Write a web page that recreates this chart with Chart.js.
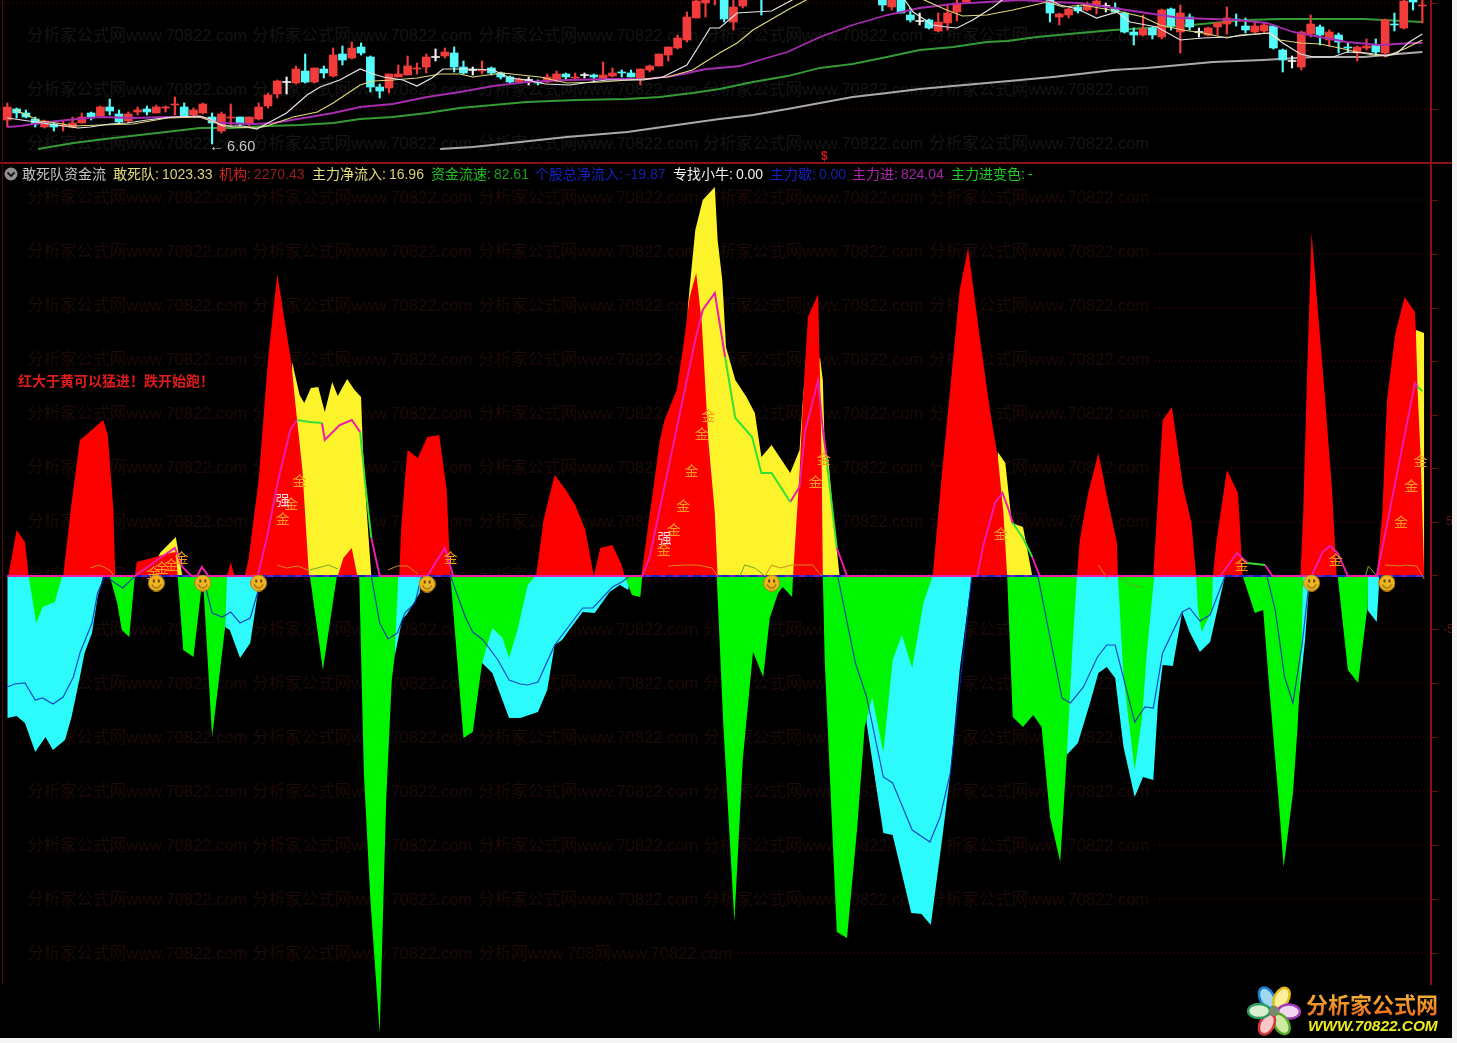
<!DOCTYPE html>
<html>
<head>
<meta charset="utf-8">
<title>敢死队资金流</title>
<script src="https://cdn.jsdelivr.net/npm/chart.js@4"></script>
<style>
    html, body { margin: 0; padding: 0; background: #f4f4f4; overflow: hidden; }
    #panel { position: absolute; left: 0; top: 0; width: 1452px; height: 1038px; background: #000; overflow: hidden;
        font-family: "Liberation Sans", "Noto Sans CJK SC", sans-serif; }
    #panel canvas { position: absolute; left: 0; }
    #price-chart { top: 0; filter: blur(0.4px); }
    #flow-chart { top: 164px; }
    .wm { position: absolute; font-size: 16.5px; line-height: 20px; white-space: nowrap; }
    .rule { position: absolute; background: #8a1212; }
    .txt { position: absolute; white-space: nowrap; }
    .legend-item { position: absolute; top: 165px; font-size: 14px; line-height: 18px; white-space: nowrap; }
    .legend-item b { font-weight: normal; margin-left: 3px; }
    #logo-cn { position: absolute; left: 1306px; top: 988px; font: bold 22px "Noto Sans CJK SC", sans-serif; line-height: 30px; white-space: nowrap;
        background: linear-gradient(#f9c63a, #e8661a); -webkit-background-clip: text; background-clip: text; color: transparent; }
    #logo-en { position: absolute; left: 1308px; top: 1016px; font: italic bold 15.4px "Liberation Sans", sans-serif; line-height: 20px; color: #ecec20; white-space: nowrap; }
</style>
</head>
<body>
<div id="panel">
    <canvas id="price-chart" width="1430" height="163"></canvas>
    <canvas id="flow-chart" width="1430" height="874"></canvas>
    <svg id="flower" style="position:absolute;left:1247px;top:984px" width="54" height="54" viewBox="-27 -27 54 54">
        <g stroke-width="2.5">
            <ellipse cx="0" cy="-15" rx="7" ry="11" transform="rotate(-28)" fill="#9fd8ef" stroke="#1c7fd8"/>
            <ellipse cx="0" cy="-15" rx="7" ry="11" transform="rotate(30)" fill="#fbf09a" stroke="#e6b81c"/>
            <ellipse cx="0" cy="-15" rx="7" ry="11" transform="rotate(92)" fill="#f0d8f0" stroke="#a43cb8"/>
            <ellipse cx="0" cy="-15" rx="7" ry="11" transform="rotate(150)" fill="#cdeba0" stroke="#58a82c"/>
            <ellipse cx="0" cy="-15" rx="7" ry="11" transform="rotate(208)" fill="#f8c8c8" stroke="#d8343c"/>
            <ellipse cx="0" cy="-15" rx="7" ry="11" transform="rotate(270)" fill="#d8f0d0" stroke="#2e9a62"/>
        </g>
        <circle r="5" fill="#7a8a70"/>
    </svg>
    <div id="logo-cn">分析家公式网</div>
    <div id="logo-en">WWW.70822.COM</div>
</div>
<script>
// Bars are numbered from the left edge, flow values sit around the zero line of the lower pane.

// ---- upper pane: candles, bar 0..152 ----
const candleOpen = [
    43, 54, 50, 44, 36, 39, 37, 36, 40, 50,
    47, 56, 49, 42, 51, 54, 50, 55, 58, 56,
    48, 50, 46, 32, 45, 46, 39, 44, 57, 69,
    81, 80, 92, 81, 94, 87, 109, 105, 116, 106,
    76, 75, 86, 88, 94, 96, 106, 107, 110, 96,
    93, 92, 95, 90, 86, 81, 83, 81, 81, 83,
    89, 85, 88, 88, 84, 87, 91, 90, 85, 93,
    97, 108, 115, 123, 145, 160, 170, 170, 141, 157,
    null, 172, null, null, null, null, null, null, null, null,
    null, null, null, null, 175, 156, 175, 148, 142, 143,
    132, 140, 151, 161, null, null, null, null, null, null,
    null, null, 172, 146, 148, 156, 153, 158, 157, 155,
    150, 131, 128, 135, 126, 154, 131, 146, 131, 128,
    136, 139, 144, 137, 131, 132, 137, 113, 102, 96,
    129, 136, 123, 128, 116, 110, 115, 118, 110, 139,
    135, 165, 157,
];
const candleClose = [
    56, 50, 46, 39, 42, 36, 38, 40, 46, 46,
    56, 52, 41, 49, 53, 51, 56, 56, 59, 47,
    53, 59, 40, 49, 46, 39, 46, 56, 68, 82,
    81, 94, 81, 95, 90, 108, 103, 115, 110, 76,
    72, 89, 89, 97, 95, 106, 106, 111, 96, 90,
    93, 93, 90, 86, 81, 84, 83, 80, 86, 89,
    86, 86, 88, 86, 88, 90, 90, 86, 94, 97,
    109, 116, 125, 146, 162, 169, 180, 144, 156, 170,
    null, 168, null, null, null, null, null, null, null, null,
    null, null, null, null, 158, 170, 150, 143, 142, 135,
    141, 150, 160, 170, null, null, null, null, null, null,
    null, null, 150, 149, 154, 152, 159, 162, 157, 151,
    131, 128, 134, 128, 153, 137, 150, 136, 131, 135,
    140, 145, 143, 133, 137, 138, 115, 103, 102, 131,
    139, 128, 131, 121, 115, 116, 117, 111, 143, 138,
    162, 161, 158,
];
const candleHigh = [
    60, 55, 53, 46, 43, 41, 42, 46, 50, 51,
    57, 64, 53, 51, 56, 57, 58, 57, 66, 60,
    55, 60, 50, 51, 59, 46, 46, 60, 70, 83,
    86, 97, 109, 95, 97, 115, 117, 121, 120, 107,
    79, 89, 98, 107, 100, 109, 114, 115, 116, 102,
    96, 102, 96, 91, 87, 85, 86, 83, 89, 92,
    90, 90, 90, 89, 101, 95, 93, 93, 94, 98,
    109, 116, 128, 151, 165, 172, 185, 172, 170, 172,
    null, 172, null, null, null, null, null, null, null, null,
    null, null, null, null, 178, 175, 178, 155, 150, 144,
    150, 159, 166, 172, null, null, null, null, null, null,
    null, null, 175, 150, 155, 158, 161, 165, 160, 160,
    151, 135, 148, 136, 154, 155, 158, 149, 135, 136,
    141, 156, 149, 145, 141, 140, 138, 114, 107, 132,
    148, 138, 133, 130, 120, 117, 124, 124, 144, 150,
    165, 170, 165,
];
const candleLow = [
    36, 45, 45, 36, 35, 32, 32, 35, 40, 43,
    47, 48, 40, 40, 48, 48, 50, 51, 48, 46,
    46, 49, 19, 30, 38, 37, 36, 43, 55, 65,
    69, 79, 80, 80, 85, 86, 98, 104, 108, 71,
    65, 70, 86, 88, 89, 90, 102, 105, 91, 89,
    88, 89, 88, 84, 80, 80, 78, 78, 80, 81,
    83, 83, 85, 81, 84, 86, 86, 86, 78, 91,
    97, 102, 114, 121, 145, 146, 158, 141, 133, 155,
    null, 148, null, null, null, null, null, null, null, null,
    null, null, null, null, 152, 153, 150, 141, 138, 134,
    131, 133, 142, 160, null, null, null, null, null, null,
    null, null, 141, 138, 145, 150, 152, 149, 151, 150,
    130, 118, 127, 124, 124, 133, 110, 133, 126, 127,
    128, 129, 137, 130, 130, 130, 114, 91, 95, 93,
    126, 118, 117, 110, 111, 102, 113, 108, 106, 132,
    134, 153, 140,
];

// moving averages, read at the bends only
const ma5Bars = [0, 0.8, 3.8, 6, 7.6, 8.9, 11, 12.9, 15, 17.8, 20.7, 21.8, 23.1, 25.3, 26.8, 28, 30, 32.2, 33.6, 35.7, 37.9, 39.3, 40.4, 42.5, 44, 45.6, 46.8, 49.7, 52.2, 54, 55.8, 57.8, 60.4, 64.4, 68.3, 70.4, 73, 75.5, 76.5, 78.4, 80.1, 82.1, 84.3, 85.1, 95.7, 96.4, 97.3, 99.4, 100.9, 102, 103.7, 105.9, 107, 111.7, 113.1, 114.5, 115.2, 117, 119.2, 120.6, 123.5, 126, 128.4, 131.3, 133.2, 135.6, 137, 138.9, 140.3, 142.4, 143.9, 146.1, 148.2, 149.3, 150.6, 152];
const ma5Vals = [45, 44, 40, 37, 35, 36, 39, 40, 43, 46, 47, 44, 37, 37, 34, 40, 50, 68, 76, 83, 94, 89, 86, 83, 77, 85, 94, 94, 93, 85, 83, 79, 78, 83, 83, 86, 98, 135, 135, 150, 151, 152, 163, 170, 170, 163, 151, 138, 136, 135, 143, 156, 164, 164, 158, 155, 153, 145, 151, 141, 136, 123, 125, 126, 128, 130, 120, 109, 106, 106, 111, 110, 107, 110, 121, 129];
const ma10Bars = [0.8, 2.1, 3.5, 5.3, 7.1, 10, 13.5, 17.2, 20.7, 22.8, 24.2, 26.8, 27.9, 30.7, 33.3, 35, 37.9, 39.3, 41.4, 44, 46.5, 48.6, 50, 53.2, 57.2, 60.1, 63.7, 68.3, 70.9, 73.6, 76.5, 78.4, 80.1, 83.8, 86.2, 98, 100.9, 102.6, 105.2, 108, 111.7, 113.4, 115.5, 119.7, 122, 123.8, 126.3, 128.4, 131, 132.4, 135.6, 136.7, 138.9, 141, 143.1, 145, 146.7, 148.2, 150.3, 152];
const ma10Vals = [53, 48, 42, 40, 37, 38, 39, 45, 46, 39, 36, 35, 37, 46, 51, 60, 78, 82, 83, 85, 89, 89, 86, 90, 86, 80, 81, 84, 86, 93, 110, 120, 133, 153, 165, 165, 153, 147, 148, 153, 161, 156, 158, 151, 146, 138, 133, 130, 125, 128, 130, 123, 120, 119, 115, 111, 108, 107, 115, 123];
const ma20Bars = [0, 1.4, 3.5, 6.4, 10, 13.5, 17.2, 20.7, 22.8, 26.4, 28.6, 32.5, 35, 37.9, 41.4, 45.1, 48.6, 52.2, 55.8, 60.1, 65.1, 68.7, 71.5, 75.1, 76.5, 78.7, 81.2, 83.8, 87.3, 90.8, 94.5, 98, 101.6, 105.2, 108.8, 112.3, 115.2, 118.8, 122.4, 126, 129.5, 132.1, 135.3, 138.1, 141, 143.9, 147.4, 151, 152];
const ma20Vals = [36, 37, 40, 43, 46, 45, 46, 46, 40, 39, 40, 46, 50, 56, 59, 66, 71, 77, 81, 83, 84, 84, 87, 94, 95, 97, 104, 111, 126, 138, 148, 155, 159, 161, 163, 161, 160, 155, 150, 145, 144, 143, 140, 131, 126, 121, 118, 120, 120];
const ma60Bars = [3.3, 7.1, 11.4, 16.1, 20.7, 24.2, 27.9, 31.4, 35, 37.9, 41.4, 45.1, 48.6, 52.2, 55.8, 61.2, 66.6, 70.1, 73.6, 76.5, 80.1, 83.8, 87.3, 90.8, 94.5, 98, 101.6, 105.2, 107.4, 110.6, 115.2, 118.8, 122.4, 126, 129.5, 133.2, 136.7, 140.3, 145.7, 152];
const ma60Vals = [14, 20, 25, 30, 35, 35, 37, 38, 40, 44, 46, 50, 55, 58, 61, 63, 64, 66, 70, 74, 81, 87, 95, 99, 106, 113, 116, 121, 122, 126, 130, 133, 135, 137, 140, 143, 144, 144, 144, 141];
const ma120Bars = [46.5, 50, 55.1, 60.1, 66.6, 71.9, 76.5, 80.1, 84.4, 87.3, 90.8, 94.5, 98, 101.6, 105.2, 108.8, 112.3, 115.2, 118.8, 122.4, 126, 129.5, 134.9, 140.3, 145.7, 149.3, 152];
const ma120Vals = [14, 16, 21, 26, 31, 38, 44, 48, 55, 60, 66, 70, 74, 77, 80, 83, 86, 89, 93, 95, 98, 101, 103, 106, 106, 109, 111];
const priceGridLevels = [160, 54];

// ---- lower pane: filled flow areas ----
const redBars = [0.1, 1, 1.9, 2.3, 6, 6.9, 7.8, 8.7, 10.3, 10.8, 11.4, 11.6, 13.7, 13.9, 15.9, 17.5, 18.1, 18.3, 23.6, 24, 24.4, 25.5, 25.9, 27, 28, 29, 30.5, 30.9, 31.7, 32.4, 35.5, 36.1, 37, 37.6, 42.1, 42.3, 42.7, 43, 44.1, 45.1, 46.4, 46.9, 47.2, 47.6, 56.8, 57.6, 58.8, 60, 61, 62.1, 63, 63.7, 65, 66, 66.3, 68.1, 70.1, 70.6, 71.9, 72.6, 73.3, 74, 74.6, 75.3, 76, 76.3, 84.4, 85.1, 85.5, 86, 87.1, 87.3, 87.5, 87.6, 99.4, 100.4, 101.3, 102.3, 103.2, 104.5, 105.6, 106.4, 107, 107.4, 114.9, 115.2, 116.1, 117.2, 118.2, 119.2, 119.3, 123.1, 123.5, 124.1, 125.1, 125.6, 126.3, 127.2, 127.7, 129.5, 129.9, 131, 132.2, 132.7, 138.9, 139.2, 139.6, 140.1, 140.8, 141.5, 142.3, 142.8, 147.1, 147.7, 148.2, 149.1, 150.1, 151.2, 151.3, 151.5, 151.8, 152, 152.2];
const redVals = [0, 46, 34, 0, 0, 73, 136, 143, 156, 141, 66, 0, 0, 14, 19, 23, 24, 0, 0, 14, 0, 0, 16, 96, 216, 302, 214, 176, 106, 0, 0, 18, 28, 0, 0, 46, 96, 126, 118, 139, 141, 106, 86, 0, 0, 56, 101, 86, 71, 46, 0, 28, 31, 11, 0, 0, 136, 156, 186, 229, 279, 303, 253, 136, 63, 0, 0, 103, 183, 259, 282, 196, 96, 0, 0, 103, 189, 286, 328, 236, 163, 119, 63, 0, 0, 36, 83, 123, 76, 33, 0, 0, 63, 156, 169, 136, 89, 53, 0, 0, 36, 106, 83, 0, 0, 63, 196, 344, 263, 183, 86, 0, 0, 63, 176, 243, 279, 264, 246, 183, 123, 63, 0];
const yellowBars = [15.3, 16.4, 18.1, 18.3, 18.8, 30.4, 30.6, 31.4, 31.9, 32.6, 33.4, 34.1, 34.9, 35.5, 36.5, 37.3, 38, 38.2, 38.6, 39.1, 72.3, 73.1, 73.3, 73.9, 74.7, 76, 76.3, 76.8, 77.2, 78.2, 79.4, 80.3, 81, 82.1, 84.1, 85.1, 85.5, 85.8, 87.3, 87.6, 87.8, 88.2, 88.7, 89.4, 105.6, 106.4, 107.2, 107.9, 109.1, 110.1, 151.1, 151.3, 152.2, 152.2];
const yellowVals = [0, 23, 39, 28, 0, 0, 214, 181, 173, 188, 189, 164, 194, 180, 197, 186, 179, 126, 66, 0, 0, 268, 289, 346, 376, 389, 336, 296, 229, 196, 179, 163, 119, 131, 103, 126, 183, 206, 218, 196, 129, 116, 63, 0, 0, 124, 113, 53, 49, 0, 0, 246, 243, 0];
const cyanBars = [0, 0, 1, 1.9, 3, 4.1, 4.9, 6.2, 6.9, 7.8, 8.3, 9.1, 9.7, 10.3, 23.4, 23.4, 23.9, 25, 26.1, 26.9, 27.1, 41.6, 41.6, 42.4, 43, 44.3, 44.5, 51, 51, 52.1, 53.9, 55.1, 57, 58, 58.8, 59.6, 60.2, 61.8, 63.1, 64.7, 65.8, 66.7, 66.9, 91.8, 92.3, 94.1, 95.1, 97.1, 98.2, 99.2, 100.5, 101.3, 102.3, 103.6, 113.8, 113.8, 115, 116.3, 117.2, 118.1, 119, 119.9, 121.1, 122, 123.1, 123.6, 124.1, 125.2, 126.2, 127, 128.1, 129.2, 130.8, 138.4, 138.4, 139.4, 139.9, 146.1, 146.1, 147.1, 147.4];
const cyanVals = [0, -142, -140, -147, -176, -161, -174, -164, -141, -101, -77, -57, -21, 0, 0, -51, -54, -82, -67, -17, 0, 0, -81, -44, -37, -17, 0, 0, -87, -97, -142, -142, -136, -114, -69, -64, -56, -36, -37, -16, -9, -14, 0, 0, -147, -257, -259, -337, -338, -349, -257, -197, -94, 0, 0, -179, -167, -127, -97, -91, -102, -171, -221, -201, -204, -127, -89, -90, -36, -56, -76, -66, 0, 0, -151, -64, 0, 0, -34, -46, 0];
const greenBars = [2.3, 3.1, 3.8, 5.1, 5.9, 11, 11.8, 12.3, 13.1, 13.7, 18.3, 18.9, 20, 21, 21, 22, 23.4, 23.6, 32.5, 33.9, 35.4, 37.8, 38.3, 39, 40, 40.7, 41.3, 41.6, 42, 47.6, 49, 50, 51, 52.1, 53.2, 53.9, 54.8, 55.9, 56.7, 66.3, 67.1, 68, 68.2, 76.2, 76.9, 78.1, 79, 80.1, 81.2, 81.9, 82.8, 83.3, 84.3, 84.4, 87.6, 87.8, 89.1, 90.2, 91.3, 92.1, 92.9, 94.1, 95.1, 96.1, 97.2, 98.4, 99.4, 107.4, 108, 109.1, 110.2, 111.1, 112, 113.1, 113.8, 114.4, 114.9, 119.3, 119.9, 121.1, 121.9, 122.4, 123.2, 127.7, 127.9, 128.3, 129.4, 129.5, 132.7, 134, 134.9, 135.6, 136.5, 137.1, 138.1, 138.6, 139, 139.2, 142.9, 144, 145.1, 146.1, 146.2];
const greenVals = [0, -47, -31, -26, 0, 0, -27, -54, -61, 0, 0, -74, -81, 0, 0, -161, -51, 0, 0, -94, 0, 0, -197, -324, -457, -224, -104, -81, 0, 0, -162, -156, -87, -52, -62, -82, -54, -9, 0, 0, -19, -21, 0, 0, -147, -346, -184, -76, -101, -42, -17, -11, -21, 0, 0, -84, -356, -362, -251, -151, -121, -176, -84, -59, -92, -27, 0, 0, -141, -151, -139, -151, -241, -286, -181, -74, 0, 0, -101, -194, -141, -77, 0, 0, -34, -56, -34, 0, 0, -37, -34, -117, -217, -291, -217, -151, -74, 0, 0, -94, -107, -31, 0];

// ---- lower pane: lines ----
const blueBars = [0, 0.8, 1.9, 3, 3.8, 4.9, 6, 7.1, 7.8, 9.1, 9.7, 10.5, 11.6, 12.4, 13.7, 21, 22, 23.1, 24, 25, 26.1, 26.9, 27.4, 39.1, 40, 40.9, 41.9, 42.7, 43.8, 44.5, 47.6, 49.2, 50, 51.1, 52.7, 53.9, 55.1, 55.9, 57, 58.8, 61.8, 62.9, 65, 66, 66.9, 89.2, 91.1, 92.3, 94.1, 95.1, 97.2, 99.1, 100.2, 101.3, 103.6, 110.7, 113.3, 114.2, 115.6, 117.1, 118.1, 119, 121.1, 122.2, 123.1, 124.1, 126.2, 127, 128.1, 129.2, 130.8, 135.3, 136.2, 137.2, 138.1, 139.1, 139.7, 140.1, 152.2];
const blueVals = [-111, -108, -107, -124, -122, -128, -121, -101, -77, -47, -17, 0, -7, -12, 0, 0, -37, -41, -36, -47, -42, -16, 0, 0, -47, -63, -57, -37, -27, 0, 0, -41, -56, -64, -84, -104, -108, -109, -106, -69, -32, -32, -11, -6, 0, 0, -87, -121, -201, -207, -254, -266, -241, -197, 0, 0, -122, -127, -111, -81, -69, -69, -146, -131, -132, -77, -36, -32, -45, -39, 0, 0, -34, -101, -127, -67, -17, 0, 0];
const pinkBars = [0, 13.7, 16.1, 18, 18.8, 19.8, 20.4, 20.9, 21.6, 26.9, 27.9, 29.1, 30.4, 31.1, 32, 33.8, 34.1, 35.7, 37, 37.9, 38.5, 39.1, 40, 45.1, 47, 47.9, 68.2, 69, 73.9, 74.7, 76, 77.1, 80, 84.1, 85.1, 85.7, 86.2, 87.1, 87.6, 88, 88.5, 89.1, 90.2, 104.2, 104.8, 106.1, 106.9, 107.5, 108, 109, 110.1, 110.9, 130.3, 132.1, 133.2, 134, 135.1, 135.9, 140.1, 141.3, 142.1, 142.9, 144, 147.1, 151.2, 151.5];
const pinkVals = [0, 0, 16, 28, 9, 0, 0, 9, 0, 0, 39, 96, 146, 156, null, 153, 136, 151, 156, 144, null, 38, 0, 0, 28, 0, 0, 19, 236, 266, 283, 219, null, 74, 89, 146, 163, 196, 146, 119, null, 28, 0, 0, 29, 73, 83, 68, 53, null, 19, 0, 0, 23, 13, null, 11, 0, 0, 24, 30, 23, 0, 0, 193, 189];
const limeBars = [31.1, 32.5, 33.8, 35, 37.9, 38.4, 39.1, 60, 77.1, 78.2, 80, 81, 82.1, 84.1, 86, 88, 88.1, 89.1, 100, 108, 109.1, 110.1, 120, 133.2, 135.1, 140, 151.5, 152];
const limeVals = [156, 154, 153, null, 144, 96, 38, null, 219, 158, 139, 103, 103, 74, null, 119, 109, 28, null, 53, 38, 19, null, 13, 11, null, 189, 185];
const orangeBars = [8.9, 9.9, 11, 11.4, 20, 29, 30, 31.2, 32.3, 36, 40.9, 41.9, 43, 44.1, 60, 71, 72.8, 74.1, 75.7, 76.3, 80, 81.4, 82.1, 83, 84.3, 86.5, 87.5, 100, 117.2, 118.2, 130, 148, 149.6, 150.1, 151.4, 152.2];
const orangeVals = [8, 11, 6, 1, null, 11, 8, 10, 6, null, 6, 10, 10, 2, null, 10, 11, 11, 8, 0, null, 0, 11, 8, 11, 11, 0, null, 11, -3, null, 11, 10, 11, 10, -3];
const oliveBars = [32.5, 34.5, 35.5, 60, 78.7, 79.2, 80.3, 81.4, 100, 119.5, 120.6, 121.9, 135, 145.9, 146.2, 147.1];
const oliveVals = [6, 11, 7, null, 0, 11, 8, 0, null, -1, -9, -11, null, 0, 10, 0];
const zeroBars = [0, 152.2];
const flowGridLevels = [376, 322, 268, 215, 161, 108, 54, -53, -107, -161, -215, -269, -323];

// signal marks
const goldBars = [29.6, 30.5, 31.4, 15.7, 16.6, 17.6, 18.7, 47.6, 70.5, 71.6, 72.6, 73.5, 74.6, 75.3, 86.8, 87.7, 106.7, 132.6, 142.7, 149.7, 150.8, 151.8];
const goldVals = [57, 72, 95, 3, 8, 11, 18, 18, 26, 46, 70, 105, 142, 160, 94, 117, 42, 11, 16, 54, 90, 115];
const strongBars = [29.6, 70.6];
const strongVals = [76, 38];
const smileBars = [16, 21, 27, 45.1, 82.1, 140.1, 148.2];
const smileVals = [-7, -7, -7, -8, -7, -7, -7];

// ---- header row ----
const legendLabels = ['敢死队资金流', '敢死队:', '机构:', '主力净流入:', '资金流速:', '个股总净流入:', '专找小牛:', '主力歇:', '主力进:', '主力进变色:'];
const legendValues = ['', '1023.33', '2270.43', '16.96', '82.61', '-19.87', '0.00', '0.00', '824.04', '-'];
const legendColors = ['#c4c4c4', '#e6e07c', '#d42020', '#e6e07c', '#1fc21f', '#1622c8', '#f0f0f0', '#1622c8', '#b424b4', '#1fd01f'];
const legendValueColors = ['#c4c4c4', '#d8d27a', '#9c1c1c', '#d8d27a', '#1a9e1a', '#1420a8', '#f0f0f0', '#1420a8', '#a424a4', '#1fd01f'];
const legendLefts = [22, 113, 219, 312, 431, 535, 673, 770, 852, 951];

const xMin = -0.784;
const xMax = 152.82;
const points = (xs, ys) => xs.map((x, i) => ({ x, y: ys[i] }));

const lineSet = (xs, ys, color, width) => ({
    data: points(xs, ys),
    borderColor: color,
    borderWidth: width,
    pointRadius: 0,
    tension: 0,
    spanGaps: false,
    fill: false,
});
const areaSet = (xs, ys, color) => ({
    data: points(xs, ys),
    borderWidth: 0,
    borderColor: color,
    backgroundColor: color,
    pointRadius: 0,
    tension: 0,
    fill: 'origin',
});
const dotRow = (from, to, level) => ({
    data: [{ x: from, y: level }, { x: to, y: level }],
    borderColor: '#5e1610',
    borderWidth: 1,
    borderDash: [1, 3],
    pointRadius: 0,
    fill: false,
});

const paneScales = (yMin, yMax) => ({
    x: { type: 'linear', display: false, min: xMin, max: xMax, offset: false },
    y: { type: 'linear', display: false, min: yMin, max: yMax },
});
const paneOptions = (yMin, yMax) => ({
    responsive: false,
    animation: false,
    events: [],
    layout: { padding: 0, autoPadding: false },
    plugins: { legend: { display: false }, tooltip: { enabled: false } },
    scales: paneScales(yMin, yMax),
});

// ---- watermark rows behind both charts ----
const panel = document.getElementById('panel');
const markText = '分析家公式网www.70822.com';
const lastRowTexts = [markText, markText, '分析网www.708网www.70822.com'];
for (let row = 0; row < 18; row++) {
    const lefts = row === 17 ? [27, 252, 478] : [27, 252, 478, 703, 929];
    lefts.forEach((left, i) => {
        const el = document.createElement('div');
        el.className = 'wm';
        el.textContent = row === 17 ? lastRowTexts[i] : markText;
        el.style.left = `${left}px`;
        el.style.top = `${25 + row * 54}px`;
        el.style.color = row < 3 ? '#151515' : '#1b0a08';
        panel.insertBefore(el, panel.firstChild);
    });
}

// ---- upper pane ----
const candleIndex = candleOpen.map((o, i) => i).filter((i) => candleOpen[i] != null);
const candleColor = (i) => {
    if (candleOpen[i] === candleClose[i]) return '#f0f0f0';
    return candleClose[i] > candleOpen[i] ? '#f23b3b' : '#55fbfb';
};

new Chart(document.getElementById('price-chart'), {
    type: 'line',
    data: {
        datasets: [
            lineSet(ma5Bars, ma5Vals, '#e6e6e6', 1.2),
            lineSet(ma10Bars, ma10Vals, '#e0d878', 1.2),
            lineSet(ma20Bars, ma20Vals, '#a82cb0', 1.8),
            {
                type: 'bar',
                data: candleIndex.map((i) => ({
                    x: i,
                    y: candleOpen[i] === candleClose[i]
                        ? [candleOpen[i] - 0.5, candleOpen[i] + 0.5]
                        : [candleOpen[i], candleClose[i]],
                })),
                backgroundColor: candleIndex.map(candleColor),
                barThickness: 8,
                grouped: false,
            },
            {
                type: 'bar',
                data: candleIndex.map((i) => ({ x: i, y: [candleLow[i], candleHigh[i]] })),
                backgroundColor: candleIndex.map(candleColor),
                barThickness: 1.5,
                grouped: false,
            },
            lineSet(ma60Bars, ma60Vals, '#359c35', 1.8),
            lineSet(ma120Bars, ma120Vals, '#aaaaaa', 1.8),
            ...priceGridLevels.map((level) => dotRow(xMin, xMax, level)),
        ],
    },
    options: paneOptions(0, 163),
});

// ---- lower pane ----
function smileyPoint() {
    const c = document.createElement('canvas');
    c.width = 17;
    c.height = 17;
    const g = c.getContext('2d');
    g.fillStyle = '#efb820';
    g.beginPath();
    g.arc(8.5, 8.5, 8, 0, Math.PI * 2);
    g.fill();
    g.strokeStyle = '#b07a10';
    g.stroke();
    g.fillStyle = '#6a4208';
    g.fillRect(5, 5, 2, 3);
    g.fillRect(10, 5, 2, 3);
    g.strokeStyle = '#6a4208';
    g.beginPath();
    g.arc(8.5, 9, 4.5, 0.2, Math.PI - 0.2);
    g.stroke();
    return c;
}

const signalLabels = {
    id: 'signalLabels',
    afterDatasetsDraw(chart) {
        const { ctx, scales } = chart;
        ctx.save();
        ctx.font = '14px "Noto Sans CJK SC", sans-serif';
        ctx.textAlign = 'center';
        ctx.textBaseline = 'middle';
        ctx.fillStyle = '#fb9a1e';
        goldBars.forEach((b, i) => ctx.fillText('金', scales.x.getPixelForValue(b), scales.y.getPixelForValue(goldVals[i])));
        ctx.fillStyle = '#fbd8e4';
        strongBars.forEach((b, i) => ctx.fillText('强', scales.x.getPixelForValue(b), scales.y.getPixelForValue(strongVals[i])));
        ctx.restore();
    },
};

new Chart(document.getElementById('flow-chart'), {
    type: 'line',
    plugins: [signalLabels],
    data: {
        // first dataset is painted last
        datasets: [
            {
                data: points(smileBars, smileVals),
                showLine: false,
                pointStyle: smileyPoint(),
                pointRadius: 8,
            },
            lineSet(limeBars, limeVals, '#35e035', 2),
            lineSet(pinkBars, pinkVals, '#ec1cac', 2),
            lineSet(orangeBars, orangeVals, '#d08a20', 1),
            lineSet(oliveBars, oliveVals, '#6aa82a', 1),
            lineSet(blueBars, blueVals, 'rgba(16, 40, 190, 0.85)', 1.2),
            { ...lineSet(zeroBars, [0, 0], '#2020c0', 2), borderDash: [8, 6] },
            lineSet(zeroBars, [0, 0], '#b41cd8', 2),
            areaSet(greenBars, greenVals, '#00f500'),
            areaSet(cyanBars, cyanVals, '#2dfbfb'),
            areaSet(redBars, redVals, '#fc0000'),
            areaSet(yellowBars, yellowVals, '#fdf32a'),
            ...flowGridLevels.map((level) => dotRow(123.3, xMax, level)),
            dotRow(78, xMax, -377),
        ],
    },
    options: paneOptions(-462, 412),
});

// ---- frame, ticks, loose text ----
function addRule(left, top, width, height, color) {
    const el = document.createElement('div');
    el.className = 'rule';
    el.style.cssText = `left:${left}px;top:${top}px;width:${width}px;height:${height}px;` + (color ? `background:${color}` : '');
    panel.appendChild(el);
}
function addText(text, left, top, css) {
    const el = document.createElement('div');
    el.className = 'txt';
    el.textContent = text;
    el.style.cssText = `left:${left}px;top:${top}px;${css}`;
    panel.appendChild(el);
}

addRule(0, 162, 1452, 2);
addRule(1430, 0, 2, 985);
addRule(2, 0, 1, 985, '#4a0c0c');
[3, 109].forEach((y) => addRule(1432, y, 6, 1, '#6a1410'));
[200, 254, 308, 361, 415, 468, 522, 575, 629, 683, 737, 791, 845, 899, 953].forEach((y) => addRule(1432, y, 6, 1, '#6a1410'));

legendLabels.forEach((label, i) => {
    const el = document.createElement('div');
    el.className = 'legend-item';
    el.style.left = `${legendLefts[i]}px`;
    el.style.color = legendColors[i];
    el.textContent = label;
    if (legendValues[i]) {
        const v = document.createElement('b');
        v.style.color = legendValueColors[i];
        v.textContent = legendValues[i];
        el.appendChild(v);
    }
    panel.appendChild(el);
});

const chevron = document.createElement('div');
chevron.innerHTML = '<svg style="position:absolute;left:4px;top:167px" width="14" height="14"><circle cx="7" cy="7" r="6.5" fill="#909090"/><path d="M3.5 5.5 L7 9 L10.5 5.5" stroke="#111" stroke-width="1.8" fill="none"/></svg>';
panel.appendChild(chevron);

addText('红大于黄可以猛进！跌开始跑！', 18, 371, 'font:bold 14px "Noto Sans CJK SC",sans-serif;line-height:18px;color:#e01c1c');
addText('←', 209, 137, 'font:15px "Liberation Sans",sans-serif;line-height:18px;color:#c0c0c0');
addText('6.60', 227, 137, 'font:14.5px "Liberation Sans",sans-serif;line-height:18px;color:#c8c8c8');
addText('$', 821, 148, 'font:bold 12px "Liberation Sans",sans-serif;line-height:16px;color:#d01a1a');
addText('5', 1446, 513, 'font:12px "Liberation Sans",sans-serif;line-height:16px;color:#5c1210');
addText('-5', 1443, 621, 'font:12px "Liberation Sans",sans-serif;line-height:16px;color:#5c1210');
</script>
</body>
</html>
